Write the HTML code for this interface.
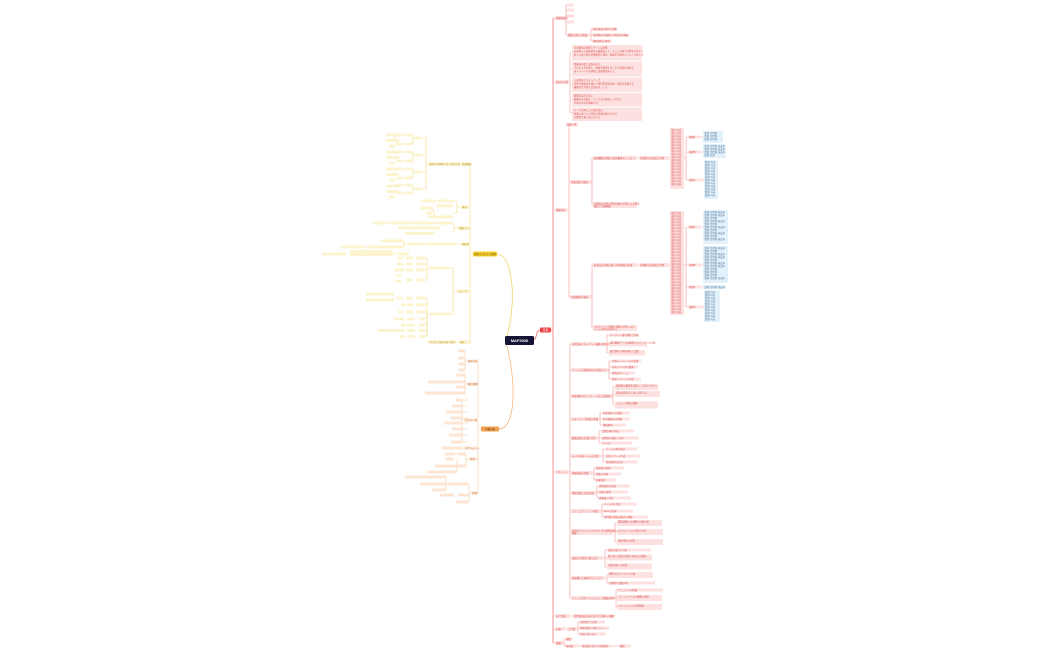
<!DOCTYPE html>
<html><head><meta charset="utf-8">
<style>
html,body{margin:0;padding:0;background:#fff;width:1050px;height:650px;overflow:hidden}
svg{display:block}
text{font-family:"Liberation Sans","Noto Sans CJK JP",sans-serif;font-size:2.4px}
.p{fill:#fde1e1}.pt{fill:#d9534f}
.y{fill:#fcf4cf}.yt{fill:#b89a20}
.o{fill:#fde5d4}.ot{fill:#c87a3a}
.b{fill:#e3f1fb}.bt{fill:#5a7fa0}
.lr{stroke:#f59a9a;stroke-width:.6;fill:none}
.ly{stroke:#f3dd80;stroke-width:.6;fill:none}
.lo{stroke:#f6c79c;stroke-width:.6;fill:none}
</style></head><body>
<svg width="1050" height="650" viewBox="0 0 1050 650" xmlns="http://www.w3.org/2000/svg">
<!-- main curves -->
<path d="M506 339 C518 300 512 254 497 254" stroke="#f3d36a" stroke-width="0.8" fill="none"/>
<path d="M506 342 C518 390 514 429 499 429" stroke="#f6b57c" stroke-width="0.8" fill="none"/>
<path d="M533 340 C537 340 536 330 540 330" stroke="#f26d6d" stroke-width="0.8" fill="none"/>
<!-- center -->
<rect x="505" y="336" width="29" height="9" rx="1.5" fill="#141434"/>
<text x="519.5" y="342" text-anchor="middle" fill="#fff" style="font-size:4px;font-weight:bold">MAF2026</text>
<rect x="540" y="327.5" width="11" height="5" rx="1" fill="#ef4444"/>
<text x="545.5" y="331" text-anchor="middle" fill="#fff" style="font-size:2.6px">目標</text>

<!-- RIGHT trunk -->
<path class="lr" d="M551 330 H553 M553 18 V643" stroke="#f26d6d" style="stroke:#f47777;stroke-width:.8"/>
<path class="lr" d="M553 18 H555 M553 82 H555 M553 210 H555 M553 472 H555 M553 616 H555 M553 629 H555 M553 643 H555"/>
<rect class="p" x="555" y="16" width="13" height="4" rx=".8"/><text class="pt" x="556" y="18.9">基礎知識</text>
<rect class="p" x="555" y="80" width="14" height="4" rx=".8"/><text class="pt" x="556" y="82.9">会社の方針</text>
<rect class="p" x="555" y="208" width="12" height="4" rx=".8"/><text class="pt" x="556" y="210.9">業務内容</text>
<rect class="p" x="555" y="470" width="14" height="4" rx=".8"/><text class="pt" x="556" y="472.9">アクション</text>
<rect class="p" x="555" y="614" width="15" height="4" rx=".8"/><text class="pt" x="556" y="616.9">自己評価</text>
<rect class="p" x="555" y="627" width="10" height="4" rx=".8"/><text class="pt" x="556" y="629.9">計画</text>
<rect class="p" x="555" y="641" width="8" height="4" rx=".8"/><text class="pt" x="556" y="643.9">課題</text>

<!-- top group -->
<path class="lr" d="M568 18 H566 M566 5 V35 M566 5 H567 M566 10 H567 M566 16 H567 M566 22 H567 M566 35 H567"/>
<rect class="p" x="567" y="3.5" width="7" height="3" rx=".6"/><rect class="p" x="567" y="8.5" width="7" height="3" rx=".6"/>
<rect class="p" x="567" y="14.5" width="7" height="3" rx=".6"/><rect class="p" x="567" y="20.5" width="7" height="3" rx=".6"/>
<rect class="p" x="567" y="33" width="22" height="4" rx=".8"/><text class="pt" x="568" y="35.9">業務に関する知識</text>
<path class="lr" d="M589 35 H591 M591 29 V41 M591 29 H592 M591 35 H592 M591 41 H592"/>
<rect class="p" x="592" y="27.5" width="24" height="3" rx=".6"/><text class="pt" x="593" y="29.8">製品知識の習得と理解</text>
<rect class="p" x="592" y="33.5" width="36" height="3" rx=".6"/><text class="pt" x="593" y="35.8">業界動向の把握と市場分析の継続</text>
<rect class="p" x="592" y="39.5" width="20" height="3" rx=".6"/><text class="pt" x="593" y="41.8">関連規制の確認</text>

<!-- policy blocks -->
<path class="lr" d="M569 82 H570 M570 53 V113 M570 53 H572 M570 69 H572 M570 85 H572 M570 100 H572 M570 113 H572"/>
<rect class="p" x="572" y="45" width="70" height="15.5" rx=".8"/>
<rect class="p" x="572" y="61.5" width="70" height="15" rx=".8"/>
<rect class="p" x="572" y="77.5" width="70" height="14.5" rx=".8"/>
<rect class="p" x="572" y="93" width="70" height="13.5" rx=".8"/>
<rect class="p" x="572" y="107.5" width="70" height="13.5" rx=".8"/>
<g class="pt">
<text x="574" y="48.5">全社戦略の推進とチームの連携</text><text x="574" y="52">お客様への価値提供を最優先とし、チーム全体で目標を共有する</text><text x="574" y="55.5">新しい取り組みを積極的に進め、成果を可視化していく方針です</text>
<text x="574" y="65">業務効率化と品質の向上</text><text x="574" y="68.5">プロセスを見直し、無駄を削減することで品質を高める</text><text x="574" y="72">各メンバーが主体的に改善提案を行う</text>
<text x="574" y="81">人材育成とスキルアップ</text><text x="574" y="84.5">研修や勉強会を通じて専門知識を高め、成長を支援する</text><text x="574" y="88">継続的な学習の仕組みをつくる</text>
<text x="574" y="96.5">顧客満足度の向上</text><text x="574" y="100">顧客の声を聞き、サービスの改善につなげる</text><text x="574" y="103.5">迅速な対応を徹底する</text>
<text x="574" y="111">データ活用による意思決定</text><text x="574" y="114.5">数値に基づいた判断で成果を最大化する</text><text x="574" y="118">定期的な振り返りを行う</text>
</g>

<!-- 業務内容 -->
<path class="lr" d="M567 210 H569 M569 125 V297 M569 125 H567 M569 182 H570 M569 297 H570"/>
<rect class="p" x="566" y="123" width="12" height="3.5" rx=".6"/><text class="pt" x="567" y="125.6">業務一覧</text>
<rect class="p" x="570" y="180" width="22" height="4" rx=".8"/><text class="pt" x="571" y="182.9">営業活動の推進</text>
<rect class="p" x="570" y="295" width="22" height="4" rx=".8"/><text class="pt" x="571" y="297.9">企画業務の推進</text>
<path class="lr" d="M592 182 V158 M592 182 V205 M592 158 H593 M592 205 H593 M592 297 V265 M592 297 V328 M592 265 H593 M592 328 H593"/>
<rect class="p" x="593" y="156" width="44" height="4" rx=".8"/><text class="pt" x="594" y="158.9">新規顧客の開拓と既存顧客のフォロー</text>
<rect class="p" x="593" y="202" width="44" height="6" rx=".8"/><text class="pt" x="594" y="204.5">定期的な訪問と提案活動の実施による関係</text><text class="pt" x="594" y="207">強化と信頼構築</text>
<rect class="p" x="593" y="263" width="44" height="4" rx=".8"/><text class="pt" x="594" y="265.9">新商品の企画立案と市場調査の実施</text>
<rect class="p" x="593" y="325" width="44" height="6" rx=".8"/><text class="pt" x="594" y="327.5">プロジェクト管理と進捗の共有による</text><text class="pt" x="594" y="330">チーム全体の効率向上</text>
<path class="lr" d="M637 158 H639 M637 265 H639"/>
<rect class="p" x="639" y="156" width="30" height="4" rx=".8"/><text class="pt" x="640" y="158.9">営業担当の役割と目標</text>
<rect class="p" x="639" y="263" width="30" height="4" rx=".8"/><text class="pt" x="640" y="265.9">企画担当の役割と目標</text>
<path class="lr" d="M669 158 H670 M669 265 H670"/>
<rect class="p" x="670" y="128" width="14" height="61" rx=".8"/>
<rect class="p" x="670" y="211" width="14" height="104" rx=".8"/>
<g class="pt">
<text x="671" y="131">項目 内容</text><text x="671" y="134">項目 内容</text><text x="671" y="137">項目 内容</text><text x="671" y="140">項目 内容</text><text x="671" y="143">項目 内容</text><text x="671" y="146">項目 内容</text><text x="671" y="149">項目 内容</text><text x="671" y="152">項目 内容</text><text x="671" y="155">項目 内容</text><text x="671" y="158">項目 内容</text><text x="671" y="161">項目 内容</text><text x="671" y="164">項目 内容</text><text x="671" y="167">項目 内容</text><text x="671" y="170">項目 内容</text><text x="671" y="173">項目 内容</text><text x="671" y="176">項目 内容</text><text x="671" y="179">項目 内容</text><text x="671" y="182">項目 内容</text><text x="671" y="185">項目 内容</text>
<text x="671" y="214">項目 内容</text><text x="671" y="217">項目 内容</text><text x="671" y="220">項目 内容</text><text x="671" y="223">項目 内容</text><text x="671" y="226">項目 内容</text><text x="671" y="229">項目 内容</text><text x="671" y="232">項目 内容</text><text x="671" y="235">項目 内容</text><text x="671" y="238">項目 内容</text><text x="671" y="241">項目 内容</text><text x="671" y="244">項目 内容</text><text x="671" y="247">項目 内容</text><text x="671" y="250">項目 内容</text><text x="671" y="253">項目 内容</text><text x="671" y="256">項目 内容</text><text x="671" y="259">項目 内容</text><text x="671" y="262">項目 内容</text><text x="671" y="265">項目 内容</text><text x="671" y="268">項目 内容</text><text x="671" y="271">項目 内容</text><text x="671" y="274">項目 内容</text><text x="671" y="277">項目 内容</text><text x="671" y="280">項目 内容</text><text x="671" y="283">項目 内容</text><text x="671" y="286">項目 内容</text><text x="671" y="289">項目 内容</text><text x="671" y="292">項目 内容</text><text x="671" y="295">項目 内容</text><text x="671" y="298">項目 内容</text><text x="671" y="301">項目 内容</text><text x="671" y="304">項目 内容</text><text x="671" y="307">項目 内容</text><text x="671" y="310">項目 内容</text><text x="671" y="313">項目 内容</text>
</g>
<path class="lr" d="M684 158 H686 M686 137 V180 M686 137 H688 M686 152 H688 M686 180 H688 M684 265 H686 M686 227 V307 M686 227 H688 M686 265 H688 M686 287 H688 M686 307 H688"/>
<rect class="p" x="688" y="135.5" width="13" height="3" rx=".6"/><text class="pt" x="689" y="137.8">指標A</text>
<rect class="p" x="688" y="150.5" width="13" height="3" rx=".6"/><text class="pt" x="689" y="152.8">指標B</text>
<rect class="p" x="688" y="178.5" width="15" height="3" rx=".6"/><text class="pt" x="689" y="180.8">指標C</text>
<rect class="p" x="688" y="225.5" width="13" height="3" rx=".6"/><text class="pt" x="689" y="227.8">指標A</text>
<rect class="p" x="688" y="263.5" width="13" height="3" rx=".6"/><text class="pt" x="689" y="265.8">指標B</text>
<rect class="p" x="688" y="285.5" width="13" height="3" rx=".6"/><text class="pt" x="689" y="287.8">指標C</text>
<rect class="p" x="688" y="305.5" width="15" height="3" rx=".6"/><text class="pt" x="689" y="307.8">指標D</text>
<path class="lr" d="M701 137 H703 M701 152 H703 M703 180 H704 M701 227 H703 M701 265 H703 M701 287 H703 M703 307 H704"/>
<rect class="b" x="703" y="131" width="20" height="12" rx=".8"/>
<rect class="b" x="703" y="144" width="23" height="14" rx=".8"/>
<rect class="b" x="704" y="160" width="14" height="39" rx=".8"/>
<rect class="b" x="703" y="210" width="25" height="34" rx=".8"/>
<rect class="b" x="703" y="246" width="25" height="37" rx=".8"/>
<rect class="b" x="703" y="285" width="23" height="4" rx=".8"/>
<rect class="b" x="704" y="290" width="16" height="32" rx=".8"/>
<g class="bt">
<text x="704.5" y="134">数値 目標値</text><text x="704.5" y="137">数値 目標値</text><text x="704.5" y="140">数値 目標値</text>
<text x="704.5" y="147">数値 目標値 達成率</text><text x="704.5" y="150">数値 目標値 達成率</text><text x="704.5" y="153">数値 目標値 達成率</text><text x="704.5" y="156">数値 目標</text>
<text x="705" y="163">数値 内容</text><text x="705" y="166">数値 内容</text><text x="705" y="169">数値 内容</text><text x="705" y="172">数値 内容</text><text x="705" y="175">数値 内容</text><text x="705" y="178">数値 内容</text><text x="705" y="181">数値 内容</text><text x="705" y="184">数値 内容</text><text x="705" y="187">数値 内容</text><text x="705" y="190">数値 内容</text><text x="705" y="193">数値 内容</text><text x="705" y="196">数値 内容</text>
<text x="704.5" y="213">数値 目標値 達成率</text><text x="704.5" y="216">数値 目標値 達成率</text><text x="704.5" y="219">数値 目標値</text><text x="704.5" y="222">数値 目標値 達成率</text><text x="704.5" y="225">数値 目標値</text><text x="704.5" y="228">数値 目標値 達成率</text><text x="704.5" y="231">数値 目標値</text><text x="704.5" y="234">数値 目標値 達成率</text><text x="704.5" y="237">数値 目標値</text><text x="704.5" y="240">数値 目標値 達成率</text>
<text x="704.5" y="249">数値 目標値 達成率</text><text x="704.5" y="252">数値 目標値</text><text x="704.5" y="255">数値 目標値 達成率</text><text x="704.5" y="258">数値 目標値 達成率</text><text x="704.5" y="261">数値 目標値</text><text x="704.5" y="264">数値 目標値 達成率</text><text x="704.5" y="267">数値 目標値 達成率</text><text x="704.5" y="270">数値 目標値</text><text x="704.5" y="273">数値 目標値</text><text x="704.5" y="276">数値 目標値</text><text x="704.5" y="279">数値 目標値 達成率</text>
<text x="704.5" y="287.8">数値 目標値 達成率</text>
<text x="705" y="293">数値 内容</text><text x="705" y="296">数値 内容</text><text x="705" y="299">数値 内容</text><text x="705" y="302">数値 内容</text><text x="705" y="305">数値 内容</text><text x="705" y="308">数値 内容</text><text x="705" y="311">数値 内容</text><text x="705" y="314">数値 内容</text><text x="705" y="317">数値 内容</text><text x="705" y="320">数値 内容</text>
</g>

<!-- Action section -->
<path class="lr" d="M569 472 H570 M570 344 V598 M570 344 H571 M570 370 H571 M570 396 H571 M570 419 H571 M570 438 H571 M570 456 H571 M570 474 H571 M570 493 H571 M570 511 H571 M570 532 H571 M570 558 H571 M570 578 H571 M570 598 H571"/>
<g>
<rect class="p" x="571" y="342" width="34" height="4" rx=".8"/><text class="pt" x="572" y="344.9">市場分析とターゲット顧客の明確化</text>
<rect class="p" x="571" y="368" width="37" height="4" rx=".8"/><text class="pt" x="572" y="370.9">チームでの情報共有の仕組みづくり</text>
<rect class="p" x="571" y="394" width="41" height="4" rx=".8"/><text class="pt" x="572" y="396.9">提案資料のテンプレート化と品質向上</text>
<rect class="p" x="571" y="417" width="27" height="4" rx=".8"/><text class="pt" x="572" y="419.9">スキルアップ研修の受講</text>
<rect class="p" x="571" y="436" width="26" height="4" rx=".8"/><text class="pt" x="572" y="438.9">顧客訪問の計画と実行</text>
<rect class="p" x="571" y="454" width="30" height="4" rx=".8"/><text class="pt" x="572" y="456.9">データ分析ツールの活用</text>
<rect class="p" x="571" y="471" width="22" height="4" rx=".8"/><text class="pt" x="572" y="473.9">業務改善の提案</text>
<rect class="p" x="571" y="491" width="25" height="4" rx=".8"/><text class="pt" x="572" y="493.9">進捗管理と定例会議</text>
<rect class="p" x="571" y="509" width="30" height="4" rx=".8"/><text class="pt" x="572" y="511.9">コミュニケーション強化</text>
<rect class="p" x="571" y="529" width="42" height="6" rx=".8"/><text class="pt" x="572" y="531.6">新規プロジェクトの立ち上げと関係部署との</text><text class="pt" x="572" y="534">調整</text>
<rect class="p" x="571" y="556" width="32" height="4" rx=".8"/><text class="pt" x="572" y="558.9">成果の可視化と振り返り</text>
<rect class="p" x="571" y="576" width="34" height="4" rx=".8"/><text class="pt" x="572" y="578.9">他部署との連携プロジェクト</text>
<rect class="p" x="571" y="596" width="43" height="4" rx=".8"/><text class="pt" x="572" y="598.9">ナレッジ共有とドキュメント整備の推進</text>
</g>
<path class="lr" d="M605 344 H607 M607 335 V353 M607 335 H609 M607 344 H609 M607 353 H609
M608 370 H609 M609 361 V379 M609 361 H611 M609 367 H611 M609 373 H611 M609 379 H611
M612 396 H613 M613 387 V405 M613 387 H615 M613 394 H615 M613 405 H615
M598 419 H600 M600 413 V425 M600 413 H602 M600 419 H602 M600 425 H602
M597 438 H599 M599 431 V443 M599 431 H601 M599 438 H601 M599 443 H601
M601 456 H603 M603 449 V462 M603 449 H605 M603 456 H605 M603 462 H605
M593 473 H594 M594 468 V480 M594 468 H595 M594 474 H595 M594 480 H595
M596 493 H597 M597 486 V498 M597 486 H598 M597 492 H598 M597 498 H598
M601 511 H602 M602 504 V517 M602 504 H603 M602 511 H603 M602 517 H603
M613 532 H615 M615 523 V542 M615 523 H617 M615 532 H617 M615 542 H617
M603 558 H605 M605 550 V567 M605 550 H607 M605 558 H607 M605 567 H607
M605 578 H607 M607 575 V583 M607 575 H608 M607 583 H608
M614 598 H616 M616 590 V607 M616 590 H617 M616 598 H617 M616 607 H617"/>
<g>
<rect class="p" x="609" y="333.5" width="30" height="3" rx=".6"/>
<rect class="p" x="609" y="341.5" width="38" height="5" rx=".6"/>
<rect class="p" x="609" y="350" width="36" height="5.5" rx=".6"/>
<rect class="p" x="611" y="359.5" width="30" height="3" rx=".6"/>
<rect class="p" x="611" y="365.5" width="27" height="3" rx=".6"/>
<rect class="p" x="611" y="371.5" width="24" height="3" rx=".6"/>
<rect class="p" x="611" y="377.5" width="30" height="3" rx=".6"/>
<rect class="p" x="615" y="384" width="43" height="6" rx=".6"/>
<rect class="p" x="615" y="391" width="45" height="6" rx=".6"/>
<rect class="p" x="615" y="401.5" width="43" height="7" rx=".6"/>
<rect class="p" x="602" y="411.5" width="28" height="3" rx=".6"/>
<rect class="p" x="602" y="417.5" width="28" height="3" rx=".6"/>
<rect class="p" x="602" y="423.5" width="24" height="3" rx=".6"/>
<rect class="p" x="601" y="429.5" width="33" height="3" rx=".6"/>
<rect class="p" x="601" y="436.5" width="38" height="3" rx=".6"/>
<rect class="p" x="601" y="441.5" width="31" height="3" rx=".6"/>
<rect class="p" x="605" y="447.5" width="32" height="3" rx=".6"/>
<rect class="p" x="605" y="454.5" width="35" height="3" rx=".6"/>
<rect class="p" x="605" y="460.5" width="33" height="3" rx=".6"/>
<rect class="p" x="595" y="466.5" width="29" height="3" rx=".6"/>
<rect class="p" x="595" y="472.5" width="26" height="3" rx=".6"/>
<rect class="p" x="595" y="478.5" width="21" height="3" rx=".6"/>
<rect class="p" x="598" y="484.5" width="32" height="3" rx=".6"/>
<rect class="p" x="598" y="490.5" width="30" height="3" rx=".6"/>
<rect class="p" x="598" y="496.5" width="33" height="3" rx=".6"/>
<rect class="p" x="603" y="502.5" width="34" height="3" rx=".6"/>
<rect class="p" x="603" y="509.5" width="30" height="3" rx=".6"/>
<rect class="p" x="603" y="515.5" width="45" height="3" rx=".6"/>
<rect class="p" x="617" y="520" width="45" height="6" rx=".6"/>
<rect class="p" x="617" y="529" width="46" height="6" rx=".6"/>
<rect class="p" x="617" y="539" width="46" height="6" rx=".6"/>
<rect class="p" x="607" y="548.5" width="44" height="3" rx=".6"/>
<rect class="p" x="607" y="554.5" width="45" height="6" rx=".6"/>
<rect class="p" x="607" y="563.5" width="45" height="6" rx=".6"/>
<rect class="p" x="608" y="572" width="45" height="6" rx=".6"/>
<rect class="p" x="608" y="581.5" width="47" height="3" rx=".6"/>
<rect class="p" x="617" y="588.5" width="46" height="3" rx=".6"/>
<rect class="p" x="617" y="595" width="45" height="6" rx=".6"/>
<rect class="p" x="617" y="604" width="45" height="6" rx=".6"/>
</g>
<g class="pt">
<text x="610" y="335.8">ターゲット層の調査と分析</text><text x="610" y="343.6">既存顧客データの整理とセグメントの作成</text><text x="610" y="352.2">競合他社の動向調査と比較</text>
<text x="612" y="361.8">定例ミーティングの実施</text><text x="612" y="367.8">共有フォルダの整理</text><text x="612" y="373.8">情報共有ツール</text><text x="612" y="379.8">週次レポートの作成</text>
<text x="616" y="386.5">提案書の構成を見直し、分かりやすい</text><text x="616" y="393.5">成功事例をまとめて共有する</text><text x="616" y="404">レビュー体制の構築</text>
<text x="603" y="413.8">外部研修への参加</text><text x="603" y="419.8">社内勉強会の開催</text><text x="603" y="425.8">資格取得</text>
<text x="602" y="431.8">訪問計画の作成</text><text x="602" y="438.8">訪問後の報告と共有</text><text x="602" y="443.8">フォロー</text>
<text x="606" y="449.8">ツールの導入検討</text><text x="606" y="456.8">分析レポート作成</text><text x="606" y="462.8">活用事例の共有</text>
<text x="596" y="468.8">改善案の整理</text><text x="596" y="474.8">提案の実施</text><text x="596" y="480.8">効果測定</text>
<text x="599" y="486.8">進捗確認の実施</text><text x="599" y="492.8">会議の運営</text><text x="599" y="498.8">議事録の共有</text>
<text x="604" y="504.8">チーム内の対話</text><text x="604" y="511.8">1on1の実施</text><text x="604" y="517.8">部門間の情報交換会の開催</text>
<text x="618" y="522.5">関係部署との調整と計画立案</text><text x="618" y="531.5">スケジュールの作成と共有</text><text x="618" y="541.5">進捗報告の実施</text>
<text x="608" y="550.8">成果の集計と分析</text><text x="608" y="557">振り返り会議の実施と改善点の整理</text><text x="608" y="566">次期計画への反映</text>
<text x="609" y="574.5">連携プロジェクトの立案</text><text x="609" y="583.8">定期的な情報共有</text>
<text x="618" y="590.8">マニュアルの整備</text><text x="618" y="597.5">ナレッジベースの構築と運用</text><text x="618" y="606.5">ドキュメントの定期更新</text>
</g>
<!-- bottom branches -->
<path class="lr" d="M570 616 H573 M565 629 H567 M577 629 H578 M578 622 V634 M578 622 H579 M578 628 H579 M578 634 H579 M563 643 H564 M564 639 V646 M564 639 H565 M564 646 H565 M579 646 H581 M611 646 H619"/>
<rect class="p" x="573" y="614" width="40" height="4" rx=".8"/><text class="pt" x="574" y="616.9">目標達成度の振り返りと次期への課題</text>
<rect class="p" x="567" y="627" width="10" height="4" rx=".8"/><text class="pt" x="568" y="629.9">上半期</text>
<rect class="p" x="579" y="620.5" width="26" height="3" rx=".6"/><text class="pt" x="580" y="622.8">目標設定と計画</text>
<rect class="p" x="579" y="626.5" width="30" height="3" rx=".6"/><text class="pt" x="580" y="628.8">進捗管理と中間レビュー</text>
<rect class="p" x="579" y="632.5" width="27" height="3" rx=".6"/><text class="pt" x="580" y="634.8">評価と振り返り</text>
<rect class="p" x="565" y="637.5" width="8" height="3" rx=".6"/><text class="pt" x="566" y="639.8">課題</text>
<rect class="p" x="565" y="644.5" width="14" height="3" rx=".6"/><text class="pt" x="566" y="646.8">改善策</text>
<rect class="p" x="581" y="644.5" width="30" height="3" rx=".6"/><text class="pt" x="582" y="646.8">改善策の実行と効果測定</text>
<rect class="p" x="619" y="644.5" width="12" height="3" rx=".6"/><text class="pt" x="620" y="646.8">継続</text>

<!-- LEFT yellow -->
<rect x="473" y="251.5" width="24" height="5" rx="1" fill="#f4cd2e"/>
<text x="485" y="254.9" text-anchor="middle" fill="#7a6000" style="font-size:2.4px">業務プロセスの理解</text>
<path class="ly" d="M473 254 H470 M470 165 V342 M470 165 H471 M470 207 H471 M470 228 H471 M470 244 H471 M470 291 H471 M470 342 H471"/>
<rect class="y" x="461" y="162.5" width="10" height="3.5" rx=".6"/><text class="yt" x="462" y="165">業務概要</text>
<rect class="y" x="461" y="205.5" width="8" height="3.5" rx=".6"/><text class="yt" x="462" y="208">体制</text>
<rect class="y" x="458" y="226.5" width="13" height="3.5" rx=".6"/><text class="yt" x="459" y="229">業務フロー</text>
<rect class="y" x="461" y="242.5" width="10" height="3.5" rx=".6"/><text class="yt" x="462" y="245">関係者</text>
<rect class="y" x="457" y="289.5" width="14" height="3.5" rx=".6"/><text class="yt" x="458" y="292">ステップ</text>
<rect class="y" x="459" y="340.5" width="12" height="3.5" rx=".6"/><text class="yt" x="460" y="343">補足</text>
<!-- 業務概要 subtree -->
<path class="ly" d="M461 164 H457 M428 164 H426 M426 138 V189 M426 138 H421 M426 155 H421 M426 172 H421 M426 189 H421"/>
<rect class="y" x="428" y="162.5" width="29" height="3" rx=".6"/><text class="yt" x="429" y="164.8">業務の全体像と各工程の役割</text>
<g class="ly"><path d="M415 138 H413 M413 135 V144 M413 135 H412 M413 144 H412 M415 155 H413 M413 152 V161 M413 152 H412 M413 161 H412 M415 172 H413 M413 169 V178 M413 169 H412 M413 178 H412 M415 189 H413 M413 185 V193 M413 185 H412 M413 193 H412"/>
<path d="M405 135 H401 M405 144 H401 M405 152 H401 M405 161 H401 M405 169 H401 M405 178 H401 M405 185 H401 M405 193 H401 M396 135 H394 M394 138 H395 M394 135 V138"/></g>
<g class="y">
<rect x="415" y="136.5" width="6" height="3" rx=".5"/><rect x="415" y="153.5" width="6" height="3" rx=".5"/><rect x="415" y="170.5" width="6" height="3" rx=".5"/><rect x="415" y="187.5" width="6" height="3" rx=".5"/>
<rect x="405" y="133.5" width="7" height="3" rx=".5"/><rect x="405" y="142.5" width="7" height="3" rx=".5"/><rect x="405" y="150.5" width="7" height="3" rx=".5"/><rect x="405" y="159.5" width="7" height="3" rx=".5"/><rect x="405" y="167.5" width="7" height="3" rx=".5"/><rect x="405" y="176.5" width="7" height="3" rx=".5"/><rect x="405" y="183.5" width="7" height="3" rx=".5"/><rect x="405" y="191.5" width="7" height="3" rx=".5"/>
<rect x="396" y="133.5" width="5" height="3" rx=".5"/><rect x="396" y="142.5" width="5" height="3" rx=".5"/><rect x="396" y="150.5" width="5" height="3" rx=".5"/><rect x="396" y="159.5" width="5" height="3" rx=".5"/><rect x="396" y="167.5" width="5" height="3" rx=".5"/><rect x="396" y="176.5" width="5" height="3" rx=".5"/><rect x="396" y="183.5" width="5" height="3" rx=".5"/><rect x="396" y="191.5" width="5" height="3" rx=".5"/>
<rect x="386" y="133.5" width="13" height="3" rx=".5"/><rect x="386" y="139" width="13" height="3" rx=".5"/><rect x="389" y="144.5" width="6" height="3" rx=".5"/>
<rect x="386" y="150.5" width="13" height="3" rx=".5"/><rect x="386" y="156" width="13" height="3" rx=".5"/><rect x="389" y="161.5" width="6" height="3" rx=".5"/>
<rect x="386" y="167.5" width="13" height="3" rx=".5"/><rect x="386" y="173" width="13" height="3" rx=".5"/><rect x="389" y="178.5" width="6" height="3" rx=".5"/>
<rect x="386" y="184.5" width="13" height="3" rx=".5"/><rect x="386" y="190" width="13" height="3" rx=".5"/><rect x="389" y="195.5" width="6" height="3" rx=".5"/>
</g>
<!-- 体制 subtree -->
<path class="ly" d="M461 207 H457 M457 201 V213 M457 201 H453 M457 213 H453 M438 201 H436 M434 204 H433 M434 210 V216 M434 210 H431"/>
<g class="y">
<rect x="438" y="199.5" width="15" height="3" rx=".5"/><rect x="421" y="199.5" width="15" height="3" rx=".5"/>
<rect x="436" y="204.5" width="17" height="3" rx=".5"/><rect x="420" y="206.5" width="13" height="3" rx=".5"/><rect x="426" y="211.5" width="6" height="3" rx=".5"/>
<rect x="428" y="215.5" width="25" height="3" rx=".5"/>
</g>
<!-- 業務フロー subtree -->
<path class="ly" d="M458 228 H454 M454 223 V232 M454 223 H451 M454 232 H451 M437 223 H433 M410 223 H407 M391 223 H387"/>
<g class="y">
<rect x="437" y="221.5" width="14" height="3" rx=".5"/><rect x="410" y="221.5" width="23" height="3" rx=".5"/><rect x="391" y="221.5" width="16" height="3" rx=".5"/><rect x="373" y="221.5" width="14" height="3" rx=".5"/>
<rect x="398" y="226.5" width="42" height="3" rx=".5"/><rect x="405" y="232" width="30" height="3" rx=".5"/>
</g>
<!-- 関係者 subtree -->
<path class="ly" d="M461 244 H456 M426 244 H423 M406 244 H404 M404 241 V247 M404 241 H403 M404 247 H403 M368 247 H364 M398 254 H394"/>
<g class="y">
<rect x="426" y="242.5" width="30" height="3" rx=".5"/><rect x="407" y="242.5" width="16" height="3" rx=".5"/>
<rect x="381" y="239.5" width="22" height="3" rx=".5"/><rect x="368" y="245.5" width="35" height="3" rx=".5"/><rect x="341" y="245.5" width="23" height="3" rx=".5"/>
<rect x="350" y="250" width="43" height="6" rx=".5"/><rect x="398" y="252.5" width="11" height="3" rx=".5"/><rect x="322" y="252.5" width="24" height="3" rx=".5"/>
</g>
<!-- ステップ subtree -->
<path class="ly" d="M457 291 H453 M453 268 V314 M453 268 H449 M453 314 H449 M430 268 H427 M427 258 V280 M427 258 H425 M427 264 H425 M427 270 H425 M427 280 H425 M430 314 H427 M427 298 V335 M427 298 H425 M427 305 H425 M427 312 H425 M427 330 H425"/>
<g class="y">
<rect x="430" y="266.5" width="19" height="3" rx=".5"/><rect x="430" y="312.5" width="19" height="3" rx=".5"/>
<rect x="416" y="256.5" width="9" height="3" rx=".5"/><rect x="406" y="256.5" width="7" height="3" rx=".5"/><rect x="397" y="256.5" width="6" height="3" rx=".5"/>
<rect x="416" y="262.5" width="9" height="3" rx=".5"/><rect x="406" y="262.5" width="7" height="3" rx=".5"/><rect x="397" y="262.5" width="6" height="3" rx=".5"/>
<rect x="416" y="268.5" width="9" height="3" rx=".5"/><rect x="406" y="268.5" width="7" height="3" rx=".5"/><rect x="394" y="268.5" width="10" height="3" rx=".5"/>
<rect x="416" y="278.5" width="9" height="3" rx=".5"/><rect x="406" y="278.5" width="7" height="3" rx=".5"/><rect x="396" y="274" width="5" height="3" rx=".5"/><rect x="396" y="280" width="5" height="3" rx=".5"/>
<rect x="416" y="296.5" width="9" height="3" rx=".5"/><rect x="406" y="296.5" width="7" height="3" rx=".5"/><rect x="396" y="296.5" width="7" height="3" rx=".5"/>
<rect x="366" y="292.5" width="28" height="3" rx=".5"/><rect x="366" y="298.5" width="28" height="3" rx=".5"/>
<rect x="416" y="303.5" width="9" height="3" rx=".5"/><rect x="406" y="303.5" width="7" height="3" rx=".5"/><rect x="401" y="303.5" width="4" height="3" rx=".5"/>
<rect x="416" y="310.5" width="9" height="3" rx=".5"/><rect x="406" y="310.5" width="7" height="3" rx=".5"/><rect x="398" y="310.5" width="5" height="3" rx=".5"/>
<rect x="419" y="317.5" width="6" height="3" rx=".5"/><rect x="407" y="317.5" width="8" height="3" rx=".5"/><rect x="394" y="317.5" width="10" height="3" rx=".5"/>
<rect x="419" y="323.5" width="6" height="3" rx=".5"/><rect x="407" y="323.5" width="8" height="3" rx=".5"/><rect x="401" y="323.5" width="5" height="3" rx=".5"/>
<rect x="419" y="329" width="6" height="3" rx=".5"/><rect x="407" y="329" width="8" height="3" rx=".5"/><rect x="378" y="329" width="27" height="3" rx=".5"/>
<rect x="419" y="335" width="6" height="3" rx=".5"/><rect x="407" y="335" width="8" height="3" rx=".5"/><rect x="400" y="335" width="5" height="3" rx=".5"/>
</g>
<path class="ly" d="M427 314 V336 M427 318 H425 M427 324 H425 M427 336 H425"/>
<path class="ly" d="M459 342 H456"/>
<rect class="y" x="428" y="340.5" width="28" height="3" rx=".5"/><text class="yt" x="429" y="342.8">プロセス改善の取り組み</text>

<!-- LEFT orange -->
<rect x="481" y="426.5" width="18" height="5" rx="1" fill="#f0a050"/>
<text x="490" y="429.9" text-anchor="middle" fill="#6a3300" style="font-size:2.4px">行動計画</text>
<path class="lo" d="M481 429 H478 M478 361 V493 M478 361 H479 M478 384 H479 M478 420 H478 M478 448 H478 M478 459 H479 M478 493 H479"/>
<rect class="o" x="467" y="359.5" width="11" height="3" rx=".5"/><text class="ot" x="468" y="361.8">基本方針</text>
<rect class="o" x="467" y="382.5" width="11" height="3" rx=".5"/><text class="ot" x="468" y="384.8">重点施策</text>
<rect class="o" x="464" y="418.5" width="14" height="3" rx=".5"/><text class="ot" x="465" y="420.8">タスク一覧</text>
<rect class="o" x="464" y="446.5" width="14" height="3" rx=".5"/><text class="ot" x="465" y="448.8">スケジュール</text>
<rect class="o" x="469" y="457.5" width="9" height="3" rx=".5"/><text class="ot" x="470" y="459.8">体制</text>
<rect class="o" x="471" y="491.5" width="7" height="3" rx=".5"/><text class="ot" x="472" y="493.8">評価</text>
<path class="lo" d="M467 361 H465 M465 351 V370 M465 351 H464 M465 358 H464 M465 364 H464 M465 370 H464
M467 384 H465 M465 375 V393 M465 375 H466 M465 382 H466 M465 387 H466 M465 393 H466
M464 420 H462 M462 400 V442 M462 400 H468 M462 406 H468 M462 412 H468 M462 418 H468 M462 423 H468 M462 429 H468 M462 435 H468 M462 442 H468
M464 448 H462
M469 459 H466 M466 454 V466 M466 454 H466 M466 466 H466 M458 454 H455 M458 466 H457 M457 459 V472
M471 493 H469 M469 484 V502 M469 484 H468 M469 495 H468 M469 502 H468 M448 484 H446 M446 477 V490"/>
<g class="o">
<rect x="458" y="349.5" width="6" height="3" rx=".5"/><rect x="458" y="356.5" width="6" height="3" rx=".5"/><rect x="458" y="362.5" width="6" height="3" rx=".5"/><rect x="458" y="368.5" width="6" height="3" rx=".5"/>
<rect x="456" y="373.5" width="10" height="3" rx=".5"/><rect x="428" y="380.5" width="38" height="3" rx=".5"/><rect x="456" y="385.5" width="10" height="3" rx=".5"/><rect x="425" y="391.5" width="40" height="3" rx=".5"/>
<rect x="456" y="398.5" width="6" height="3" rx=".5"/><rect x="452" y="404.5" width="10" height="3" rx=".5"/><rect x="446" y="410.5" width="16" height="3" rx=".5"/><rect x="450" y="416.5" width="12" height="3" rx=".5"/><rect x="444" y="421.5" width="18" height="3" rx=".5"/><rect x="452" y="427.5" width="10" height="3" rx=".5"/><rect x="449" y="433.5" width="13" height="3" rx=".5"/><rect x="451" y="440.5" width="11" height="3" rx=".5"/>
<rect x="442" y="446.5" width="20" height="3" rx=".5"/>
<rect x="458" y="452.5" width="8" height="3" rx=".5"/><rect x="445" y="452.5" width="10" height="3" rx=".5"/>
<rect x="458" y="464.5" width="8" height="3" rx=".5"/><rect x="446" y="457.5" width="8" height="3" rx=".5"/><rect x="435" y="464.5" width="22" height="3" rx=".5"/><rect x="427" y="470.5" width="30" height="3" rx=".5"/>
<rect x="448" y="482.5" width="20" height="3" rx=".5"/><rect x="405" y="475.5" width="41" height="3" rx=".5"/><rect x="420" y="482.5" width="26" height="3" rx=".5"/><rect x="432" y="488.5" width="14" height="3" rx=".5"/>
<rect x="458" y="493.5" width="10" height="3" rx=".5"/><rect x="440" y="493.5" width="14" height="3" rx=".5"/><rect x="456" y="500.5" width="12" height="3" rx=".5"/>
</g>
</svg>
</body></html>
